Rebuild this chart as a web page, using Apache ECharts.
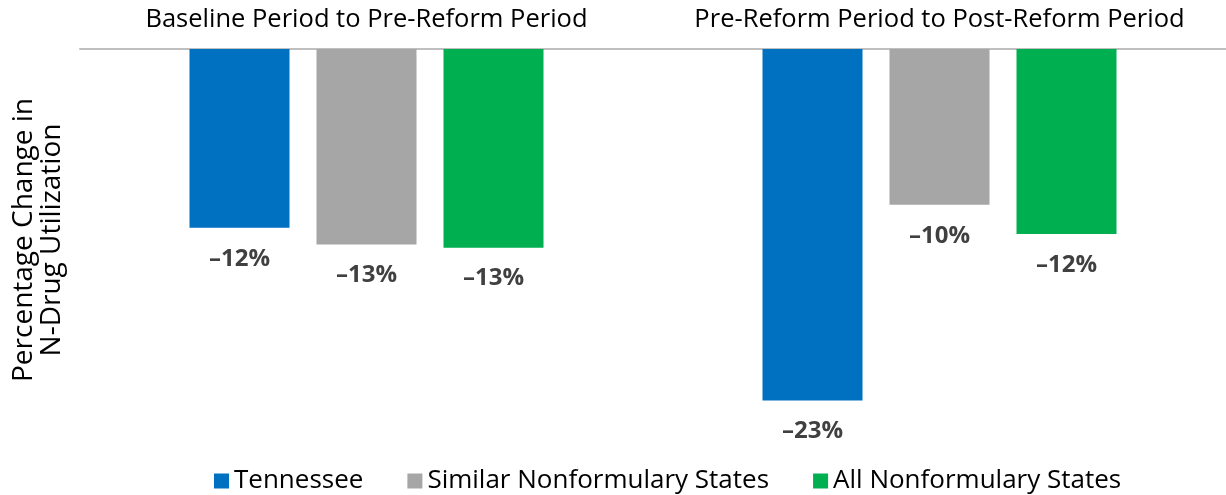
<!DOCTYPE html>
<html>
<head>
<meta charset="utf-8">
<script src="https://cdn.jsdelivr.net/npm/echarts@6/dist/echarts.min.js"></script>
<style>
  html, body { margin: 0; padding: 0; background: #fff; }
  #chart { width: 1226px; height: 495px; }
</style>
</head>
<body>
<div id="chart"></div>
<script>
const periods = ["Baseline Period to Pre-Reform Period", "Pre-Reform Period to Post-Reform Period"];
const tennessee = [-11.7, -23.0];
const similarStates = [-12.8, -10.2];
const allStates = [-13.0, -12.1];
const yTitle = "Percentage Change in\nN-Drug Utilization";

const font = "'Open Sans', 'Noto Sans', sans-serif";

const label = {
  show: true,
  position: "bottom",
  distance: 19,
  fontFamily: font,
  fontSize: 24,
  fontWeight: "bold",
  color: "#404040",
  formatter: (p) => "\u2013" + Math.round(Math.abs(p.value)) + "%",
};

const chart = echarts.init(document.getElementById("chart"));
chart.setOption({
  animation: false,
  textStyle: { fontFamily: font },
  grid: { left: 80, right: 0, top: 49, bottom: 64, outerBoundsMode: "none", containLabel: false },
  legend: {
    bottom: -4,
    left: 209,
    itemWidth: 15,
    itemHeight: 15,
    itemGap: 44,
    icon: "rect",
    textStyle: { fontFamily: font, fontSize: 26, color: "#000" },
  },
  xAxis: {
    type: "category",
    position: "top",
    data: periods,
    axisLine: { lineStyle: { color: "#bfbfbf", width: 2 } },
    axisTick: { show: false },
    axisLabel: { fontFamily: font, fontSize: 25.5, color: "#000", margin: 16, interval: 0 },
  },
  yAxis: {
    type: "value",
    min: -25,
    max: 0,
    axisLine: { show: false },
    axisTick: { show: false },
    axisLabel: { show: false },
    splitLine: { show: false },
    name: yTitle,
    nameLocation: "middle",
    nameRotate: 90,
    nameGap: 14,
    nameTextStyle: { fontFamily: font, fontSize: 28, color: "#000", lineHeight: 28 },
  },
  series: [
    { name: "Tennessee", type: "bar", data: tennessee, barWidth: 100, barGap: "27%",
      itemStyle: { color: "#0070c0" }, label },
    { name: "Similar Nonformulary States", type: "bar", data: similarStates, barWidth: 100, barGap: "27%",
      itemStyle: { color: "#a6a6a6" }, label },
    { name: "All Nonformulary States", type: "bar", data: allStates, barWidth: 100, barGap: "27%",
      itemStyle: { color: "#00b050" }, label },
  ],
});
</script>
</body>
</html>
